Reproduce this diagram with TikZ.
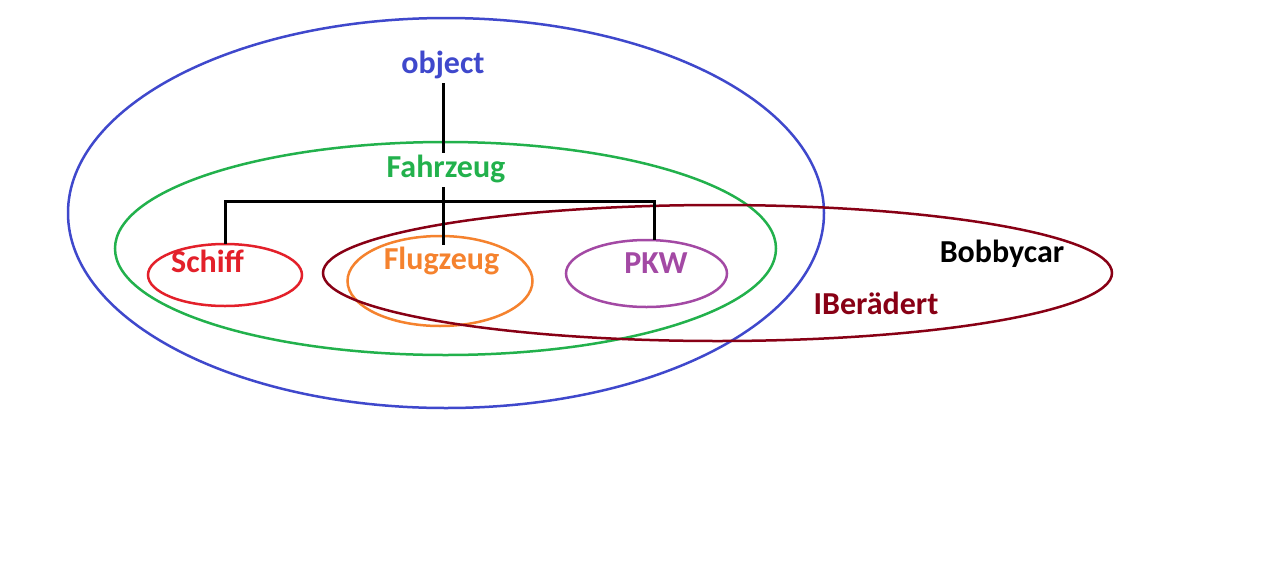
\documentclass[tikz,border=0pt]{standalone}
\usepackage{fontspec}
\setmainfont{Carlito}
\usetikzlibrary{shapes.geometric}
\definecolor{cblue}{HTML}{3F48CC}
\definecolor{cgreen}{HTML}{22B14C}
\definecolor{cred}{HTML}{E3202A}
\definecolor{corange}{HTML}{F5822E}
\definecolor{cpurple}{HTML}{A349A4}
\definecolor{cdark}{HTML}{880015}
\begin{document}
\begin{tikzpicture}[x=1pt,y=-1pt,
  lbl/.style={font=\fontsize{32}{32}\selectfont\bfseries, inner sep=3pt,
    text height=21pt, text depth=7pt, anchor=base},
  ring/.style={draw, ellipse, line width=2.5pt, inner sep=0pt, outer sep=0pt},
  conn/.style={draw=black, line width=3pt}]
\useasboundingbox[fill=white] (0,0) rectangle (1272,560);

% ellipses
\node[ring, draw=cblue, minimum width=756pt, minimum height=390pt] (objE) at (446,213) {};
\node[ring, draw=cgreen, minimum width=661pt, minimum height=213pt] (fahrE) at (445.5,248.5) {};
\node[ring, draw=cred, minimum width=154pt, minimum height=62pt] (schiffE) at (225,275) {};
\node[ring, draw=corange, minimum width=185pt, minimum height=90pt] (flugE) at (440,281) {};
\node[ring, draw=cpurple, minimum width=161pt, minimum height=67pt] (pkwE) at (646.5,273.5) {};
\node[ring, draw=cdark, minimum width=789pt, minimum height=136pt] (radE) at (717.5,273) {};

% labels
\node[lbl, text=cblue] (object) at (443,73) {object};
\node[lbl, text=cgreen] (Fahrzeug) at (446,177) {Fahrzeug};
\node[lbl, text=cred] (Schiff) at (207.5,272) {Schiff};
\node[lbl, text=corange] (Flugzeug) at (441.5,269) {Flugzeug};
\node[lbl, text=cpurple] (PKW) at (656,273) {PKW};
\node[lbl, text=black] (Bobbycar) at (1002,262) {Bobbycar};
\node[lbl, text=cdark] (Beraedert) at (876,314) {IBerädert};

% connectors
\coordinate (pkwdrop) at (654,201);
\draw[conn] (object.south) -- (object.south |- Fahrzeug.north);
\draw[conn] (object.south |- Fahrzeug.south) -- (object.south |- Flugzeug.north);
\draw[conn] (schiffE.north) |- (pkwdrop) -- (pkwdrop |- pkwE.north);
\end{tikzpicture}
\end{document}
